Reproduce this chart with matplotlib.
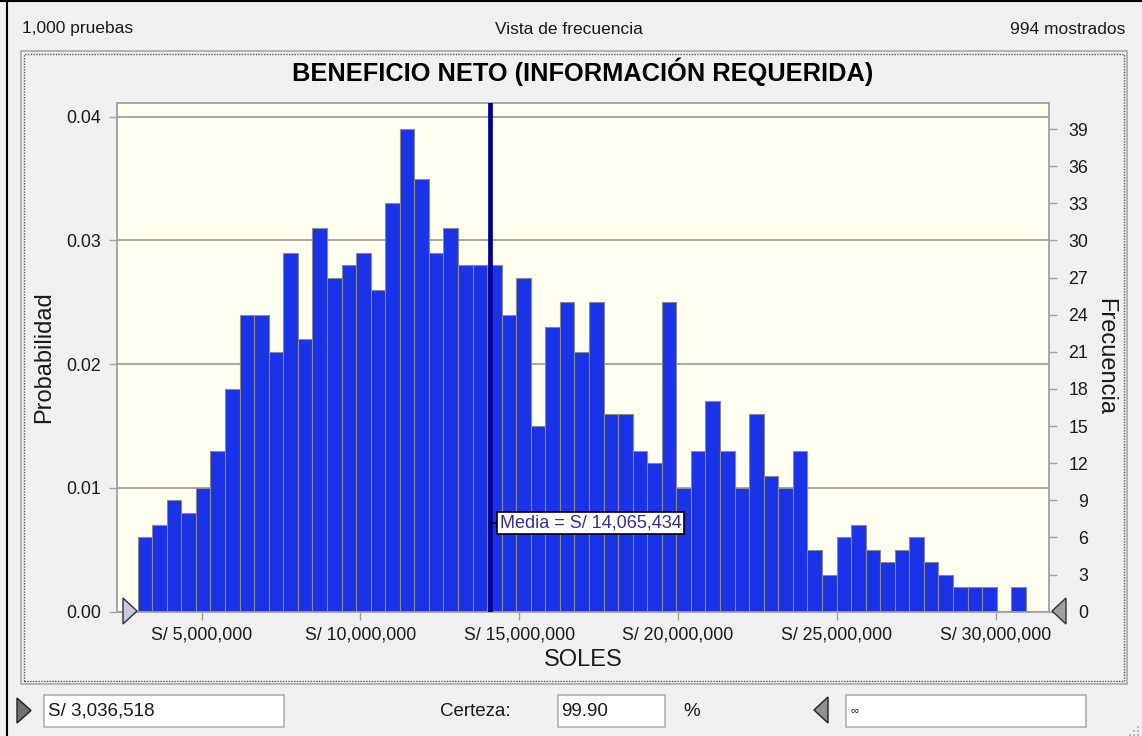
import numpy as np
import matplotlib.pyplot as plt
from matplotlib.patches import Rectangle, Polygon

plt.rcParams['font.family'] = ['Liberation Sans', 'DejaVu Sans']

# data
trials = 1000
shown = 994
freq = [6, 7, 9, 8, 10, 13, 18, 24, 24, 21, 29, 22, 31, 27, 28, 29, 26, 33, 39, 35,
        29, 31, 28, 28, 28, 24, 27, 15, 23, 25, 21, 25, 16, 16, 13, 12, 25, 10, 13, 17,
        13, 10, 16, 11, 10, 13, 5, 3, 6, 7, 5, 4, 5, 6, 4, 3, 2, 2, 2, 0, 2]
bin_start = 2985000
bin_width = 458400
mean_value = 14065434
lower_value = 3036518
certainty = 99.90
x_ticks = [5e6, 10e6, 15e6, 20e6, 25e6, 30e6]
x_labels = ['S/ 5,000,000', 'S/ 10,000,000', 'S/ 15,000,000',
            'S/ 20,000,000', 'S/ 25,000,000', 'S/ 30,000,000']
prob_ticks = [0.0, 0.01, 0.02, 0.03, 0.04]
freq_ticks = list(range(0, 40, 3))

W, H = 1142, 736
BG = '#f0f0f0'
TXT = '#1a1a1a'


def fx(x):
    return x / W


def fy(y):
    return 1 - y / H


def box(x0, y0, x1, y1, **kw):
    fig.add_artist(Rectangle((fx(x0), fy(y1)), (x1 - x0) / W, (y1 - y0) / H,
                             transform=fig.transFigure, **kw))


def tri(pts, **kw):
    fig.add_artist(Polygon([(fx(a), fy(b)) for a, b in pts], closed=True,
                           transform=fig.transFigure, **kw))


fig = plt.figure(figsize=(W / 100, H / 100), dpi=100, facecolor=BG)

# window frame and dotted panel
fig.add_artist(plt.Line2D([fx(7), fx(7)], [0, 1], transform=fig.transFigure, color='black', lw=1.5))
fig.add_artist(plt.Line2D([0, 1], [fy(0.8), fy(0.8)], transform=fig.transFigure, color='black', lw=1.5))
box(21.5, 51, 1127, 683.5, fill=False, ec='#a8a8a8', lw=1.2)
box(24, 54, 1124, 681, fill=False, ec='#555555', lw=1.0, ls=(0, (1, 1)))

# header
fig.text(fx(22), fy(29), '1,000 pruebas', fontsize=12.5, color=TXT, ha='left', va='center')
fig.text(fx(569), fy(29), 'Vista de frecuencia', fontsize=12.5, color=TXT, ha='center', va='center')
fig.text(fx(1125), fy(29), '%d mostrados' % shown, fontsize=12.5, color=TXT, ha='right', va='center')
fig.text(fx(583), fy(72), 'BENEFICIO NETO (INFORMACIÓN REQUERIDA)', fontsize=18.3,
         fontweight='bold', color='black', ha='center', va='center')

# plot area
ax = fig.add_axes([fx(116.7), fy(611.7), (1049 - 116.7) / W, (611.7 - 103.3) / H])
ax.set_facecolor('#fffff0')
xmin, xmax = 2324000, 31678000
ymax = 0.04108
ax.set_xlim(xmin, xmax)
ax.set_ylim(0, ymax)

edges = bin_start + bin_width * np.arange(len(freq))
prob = np.array(freq) / trials
ax.bar(edges, prob, width=bin_width, align='edge', color='#1a32e8',
       edgecolor='#8a8a8a', linewidth=0.8, zorder=2)

ax.set_axisbelow(True)
ax.yaxis.grid(True, color='#a0a0a0', lw=1.3)
ax.set_yticks(prob_ticks)
ax.set_yticklabels(['%.2f' % v for v in prob_ticks])
ax.set_xticks(x_ticks)
ax.set_xticklabels(x_labels)
ax.tick_params(axis='both', direction='out', length=6, width=1, color='#a0a0a0',
               labelsize=12.8, labelcolor=TXT, pad=5)
for s in ax.spines.values():
    s.set_color('#a0a0a0')
    s.set_linewidth(1.3)

ax.axvline(mean_value, color='#000090', lw=3.4, zorder=3)
ax.annotate('Media = S/ {:,}'.format(mean_value), xy=(mean_value, 0.1745),
            xycoords=ax.get_xaxis_transform(), xytext=(10, 0), textcoords='offset pixels',
            ha='left', va='center', fontsize=13, color='#3a2c9c', zorder=5,
            bbox=dict(boxstyle='square,pad=0.12', fc='white', ec='black', lw=1.2),
            arrowprops=dict(arrowstyle='-', color='black', lw=1.2, shrinkA=0, shrinkB=0))

ax2 = ax.twinx()
ax2.set_ylim(0, ymax * trials)
ax2.set_yticks(freq_ticks)
ax2.tick_params(axis='y', direction='out', length=6, width=1, color='#a0a0a0',
                labelsize=12.8, labelcolor=TXT, pad=22)
for lab in ax2.get_yticklabels():
    lab.set_horizontalalignment('right')
for s in ax2.spines.values():
    s.set_visible(False)
ax2.patch.set_visible(False)

fig.text(fx(44), fy(357), 'Probabilidad', fontsize=17, color=TXT, rotation=90, ha='center', va='center')
fig.text(fx(1105), fy(357), 'Frecuencia', fontsize=17, color=TXT, rotation=-90, ha='center', va='center')
fig.text(fx(583), fy(660), 'SOLES', fontsize=17, color=TXT, ha='center', va='center')

# certainty grabbers on the axis
tri([(123, 598), (137, 611), (123, 624)], fc='#c8c8dc', ec='#303030', lw=1, zorder=10)
tri([(1066, 598), (1052, 611), (1066, 624)], fc='#a0a0a0', ec='#303030', lw=1, zorder=10)

# bottom controls
tri([(17, 698), (31, 710.5), (17, 723)], fc='#707070', ec='#202020', lw=1)
tri([(828, 697), (814, 710), (828, 723)], fc='#909090', ec='#202020', lw=1)
box(43.5, 695, 283.5, 727, fc='white', ec='#b0b0b0', lw=1.2)
box(557.5, 695, 665, 727, fc='white', ec='#b0b0b0', lw=1.2)
box(846, 695, 1086, 727, fc='white', ec='#b0b0b0', lw=1.2)
fig.text(fx(48), fy(711), 'S/ {:,}'.format(lower_value), fontsize=13.5, color=TXT, ha='left', va='center')
fig.text(fx(511), fy(711), 'Certeza:', fontsize=13.5, color=TXT, ha='right', va='center')
fig.text(fx(561), fy(711), '%.2f' % certainty, fontsize=13.5, color=TXT, ha='left', va='center')
fig.text(fx(683), fy(711), '%', fontsize=13.5, color=TXT, ha='left', va='center')
fig.text(fx(851), fy(710), '\u221e', fontsize=8, color=TXT, ha='left', va='center')

# resize grip
for gx, gy in [(1137, 726), (1133, 730), (1137, 730), (1129, 734), (1133, 734), (1137, 734)]:
    fig.add_artist(Rectangle((fx(gx), fy(gy + 2)), 2 / W, 2 / H, transform=fig.transFigure,
                             fc='#b8b8b8', ec='none'))

fig.savefig('out.png', dpi=100, facecolor=BG)
